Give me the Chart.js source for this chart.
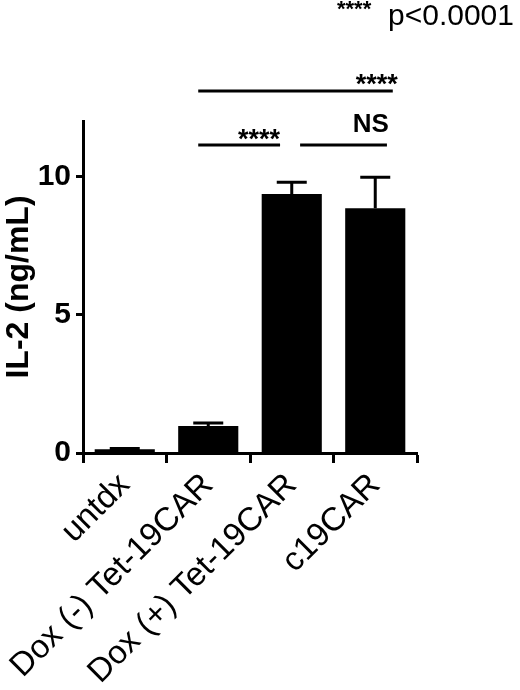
<!DOCTYPE html>
<html>
<head>
<meta charset="utf-8">
<script src="https://cdn.jsdelivr.net/npm/chart.js@4.4.1/dist/chart.umd.min.js"></script>
<style>
  body{margin:0;background:#fff;}
  #wrap{width:520px;height:690px;position:relative;}
</style>
</head>
<body>
<div id="wrap"><canvas id="myChart"></canvas></div>
<script>
// data
var groups=['untdx','Dox (-) Tet-19CAR','Dox (+) Tet-19CAR','c19CAR'];
var il2Mean=[0.14,0.98,9.36,8.85];
var il2Err=[0.02,0.10,0.43,1.12];
var yTicks=[0,5,10];
var brackets=[
  {from:1,to:2,label:'****'},
  {from:2,to:3,label:'NS'},
  {from:1,to:3,label:'****'}
];

var FONT="'Liberation Sans', Arial, sans-serif";

// error bars (upper only)
var errorBars={
  id:'errorBars',
  afterDatasetsDraw:function(chart){
    var c=chart.ctx, y=chart.scales.y;
    var meta=chart.getDatasetMeta(0);
    c.save();
    c.strokeStyle='#000';
    c.lineWidth=3;
    meta.data.forEach(function(bar,i){
      var top=y.getPixelForValue(il2Mean[i]+il2Err[i]);
      c.beginPath();
      c.moveTo(bar.x,bar.y);
      c.lineTo(bar.x,top);
      c.moveTo(bar.x-15,top);
      c.lineTo(bar.x+15,top);
      c.stroke();
    });
    c.restore();
  }
};

// significance lines + p-value note
var sigLines={
  id:'sigLines',
  afterDraw:function(chart){
    var c=chart.ctx, x=chart.scales.x, y=chart.scales.y;
    // per bracket: offsets (in categories) and height (in y units)
    var look=[
      {d1:-0.12,d2:-0.14,level:11.13},
      {d1:0.10,d2:0.14,level:11.13},
      {d1:-0.12,d2:0.21,level:13.08}
    ];
    c.save();
    c.strokeStyle='#000';
    c.fillStyle='#000';
    c.lineWidth=3;
    brackets.forEach(function(b,i){
      var x1=x.getPixelForValue(b.from+look[i].d1);
      var x2=x.getPixelForValue(b.to+look[i].d2);
      var ly=y.getPixelForValue(look[i].level);
      c.beginPath();
      c.moveTo(x1,ly);
      c.lineTo(x2,ly);
      c.stroke();
      c.textAlign='right';
      c.textBaseline='alphabetic';
      if(b.label==='NS'){
        c.font='bold 26px '+FONT;
        c.fillText(b.label,x2+2,ly-13);
      }else{
        c.font='bold 27px '+FONT;
        c.fillText(b.label,x2+(i===2?5:0),ly+(i===2?2:3));
      }
    });
    c.textAlign='left';
    c.font='bold 22px '+FONT;
    c.fillText('****',337,16);
    c.font='30px '+FONT;
    c.fillText('p<0.0001',388,25);
    c.restore();
  }
};

var ctx=document.querySelector("#myChart").getContext("2d");
var myChart=new Chart(ctx,{
    type:'bar',
    data:{
        labels:groups,
        datasets:[{
          label:'IL-2',
          data:il2Mean,
          backgroundColor:'#000',
          borderWidth:0,
          categoryPercentage:1,
          barPercentage:0.72
        }]
    },
    options:{
        responsive:true,
        maintainAspectRatio:false,
        animation:false,
        layout:{
          padding:{top:121,right:103,left:0,bottom:0}
        },
        plugins:{
          legend:{display:false},
          tooltip:{enabled:false}
        },
        scales:{
          x:{
            grid:{drawOnChartArea:false,drawTicks:true,tickLength:10,tickWidth:3,color:'#000'},
            border:{display:true,color:'#000',width:3},
            ticks:{
              color:'#000',
              autoSkip:false,
              minRotation:45,
              maxRotation:45,
              padding:3,
              font:{family:FONT,size:33}
            },
            afterFit:function(s){s.height=237;}
          },
          y:{
            min:0,
            max:12,
            grid:{drawOnChartArea:false,drawTicks:true,tickLength:7,tickWidth:3,color:'#000'},
            border:{display:true,color:'#000',width:3},
            ticks:{
              color:'#000',
              padding:5,
              font:{family:FONT,size:30,weight:'bold'}
            },
            afterBuildTicks:function(s){
              s.ticks=yTicks.map(function(v){return {value:v};});
            },
            title:{
              display:true,
              text:'IL-2 (ng/mL)',
              color:'#000',
              font:{family:FONT,size:32,weight:'bold'},
              padding:{top:0,bottom:0}
            },
            afterFit:function(s){s.width=83;}
          }
        }
    },
    plugins:[errorBars,sigLines]
});
</script>
</body>
</html>
